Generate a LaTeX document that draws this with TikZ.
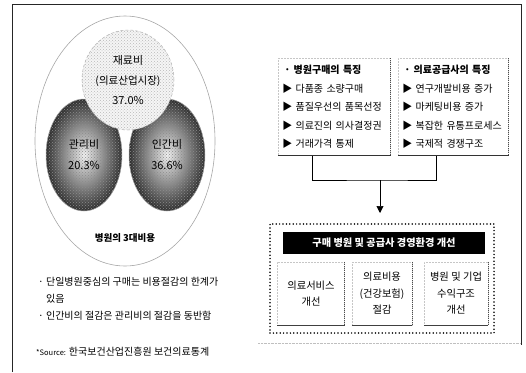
\documentclass[tikz,border=0pt]{standalone}
\usepackage{fontspec}
\setmainfont{Noto Sans CJK KR}
\usetikzlibrary{arrows.meta,shapes.geometric,calc,patterns}
\begin{document}
\begin{tikzpicture}[x=1pt,y=-1pt,
  frameline/.style={line width=0.8pt, black!85},
  bigell/.style={ellipse, draw=gray!70, line width=0.6pt, minimum width=180pt, minimum height=250pt, inner sep=0pt},
  lowcirc/.style={ellipse, draw=gray!70, line width=0.5pt, minimum width=76pt, minimum height=112pt, inner sep=0pt,
     shade, shading=radial, inner color=gray!10, outer color=black!82,
     postaction={pattern=crosshatch dots, pattern color=black!45},
     align=center, font=\fontsize{11}{21}\selectfont},
  topcirc/.style={ellipse, draw=gray!60, densely dashed, line width=0.5pt, minimum width=68pt, minimum height=100pt, inner sep=0pt,
     preaction={fill=gray!8}, pattern=crosshatch dots, pattern color=gray!55,
     align=center, font=\fontsize{11}{20}\selectfont},
  caption/.style={font=\bfseries\fontsize{9.5}{11}\selectfont},
  note/.style={anchor=west, font=\fontsize{10}{11}\selectfont, inner sep=0pt},
  featbox/.style={draw=gray!45, densely dotted, line width=0.5pt, minimum width=112pt, minimum height=97pt,
     align=left, anchor=north west, text width=108pt, inner sep=0pt, font=\fontsize{10}{18.3}\selectfont},
  shadowline/.style={line width=1.6pt, black!80},
  sideline/.style={line width=1pt, black!70, densely dotted},
  conn/.style={line width=0.6pt, black},
  goalbox/.style={draw=black, line width=1.7pt, dash pattern=on 0pt off 3.4pt, line cap=round, minimum width=224pt, minimum height=109pt, inner sep=0pt},
  banner/.style={fill=black, text=white, font=\bfseries\fontsize{10.2}{11}\selectfont, minimum width=202pt, minimum height=22pt, inner sep=0pt},
  subbox/.style={draw=gray!45, densely dotted, line width=0.5pt, minimum height=63pt, align=center, inner sep=0pt, font=\fontsize{10.3}{16.5}\selectfont}
]
\useasboundingbox (0,0) rectangle (526,372);
% outer frame
\draw[frameline] (12,372) -- (12,4) -- (521,4) -- (521,345);
\draw[gray!50, densely dotted] (258,343) -- (521,343);

% left: three costs
\node[bigell] (all) at (125,141) {};
\node[lowcirc] (mgmt) at (84,155) {관리비\\20.3\%};
\node[lowcirc] (labor) at (167,155) {인간비\\36.6\%};
\node[topcirc] (mat) at (128,80) {재료비\\{\fontsize{10.5}{20}\selectfont(의료산업시장)}\\37.0\%};
\node[caption] (cap3) at (125,238) {병원의 3대비용};

\node[note] (n1) at (38,282) {· 단일병원중심의 구매는 비용절감의 한계가};
\node[note] (n1b) at (46,299) {있음};
\node[note] (n2) at (38,316) {· 인간비의 절감은 관리비의 절감을 동반함};
\node[note] (src) at (36,352) {{\fontsize{7.5}{9}\selectfont *Source:} 한국보건산업진흥원 보건의료통계};

% right: feature boxes
\node[featbox] (buy) at (278,58) {\hspace*{4pt}\textbf{· 병원구매의 특징}\\[0.6pt]
\hspace*{2pt}▶ 다품종 소량구매\\
\hspace*{2pt}▶ 품질우선의 품목선정\\
\hspace*{2pt}▶ 의료진의 의사결정권\\
\hspace*{2pt}▶ 거래가격 통제};
\draw[shadowline] (buy.south west) -- (buy.south east);
\draw[sideline] (buy.north east) -- (buy.south east);

\node[featbox, minimum width=110pt, text width=106pt] (sup) at (398,58) {\hspace*{4pt}\textbf{· 의료공급사의 특징}\\[0.6pt]
\hspace*{2pt}▶ 연구개발비용 증가\\
\hspace*{2pt}▶ 마케팅비용 증가\\
\hspace*{2pt}▶ 복잡한 유통프로세스\\
\hspace*{2pt}▶ 국제적 경쟁구조};
\draw[shadowline] (sup.south west) -- (sup.south east);
\draw[sideline] (sup.north east) -- (sup.south east);

% goal box
\node[goalbox] (goal) at (382,278.5) {};
\node[banner] (ban) at (384,243) {구매 병원 및 공급사 경영환경 개선};
\node[subbox, minimum width=67pt] (sA) at (311,293.5) {의료서비스\\개선};
\node[subbox, minimum width=60pt] (sB) at (382,293.5) {의료비용\\(건강보험)\\절감};
\node[subbox, minimum width=64pt] (sC) at (456,293.5) {병원 및 기업\\수익구조\\개선};
\foreach \b in {sA,sB,sC}{
  \draw[line width=1.2pt, black!75] (\b.south west) -- (\b.south east);
  \draw[sideline] (\b.north east) -- (\b.south east);
}

% connectors
\coordinate (junc) at (380,180);
\coordinate (tip) at (380,213);
\draw[conn] ($(buy.south west)+(34,0)$) |- (junc) -| ($(sup.south west)+(38,0)$);
\draw[conn, -{Triangle[length=7pt,width=7pt]}] (junc) -- (tip);
\end{tikzpicture}
\end{document}
